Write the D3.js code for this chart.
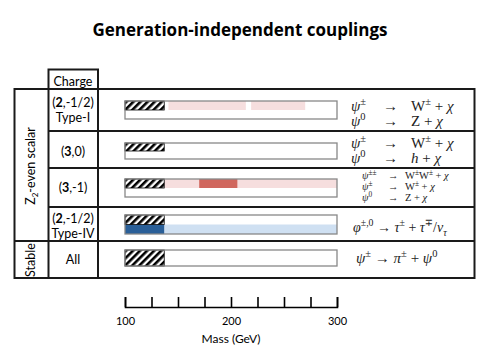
<!DOCTYPE html>
<html><head><meta charset="utf-8">
<script src="https://cdn.jsdelivr.net/npm/d3@7"></script>
<style>body{margin:0;background:#fff}</style>
</head><body><svg id="c" width="482" height="358"></svg>
<script>
// ---- data ----
const rowIds = ["typeI", "triplet0", "tripletM1", "typeIV", "stable"];
const chargeLine1 = [["(", "2", ",-1/2)"], ["(", "3", ",0)"], ["(", "3", ",-1)"], ["(", "2", ",-1/2)"], ["", "", "All"]];
const chargeLine2 = ["Type-I", "", "", "Type-IV", ""];
const hatchLimit = [137, 137, 137, 137, 137];
const lightRanges = [[[141, 214], [219, 270]], [], [[137, 300]], [[137, 300]], []];
const darkRanges = [[], [], [[170, 206]], [[100, 137]], []];
const rowColor = ["red", "red", "red", "blue", "none"];
const massDomain = [100, 300];
const tickValues = [100, 125, 150, 175, 200, 225, 250, 275, 300];
const tickLabels = [100, 200, 300];

const svg = d3.select("#c");
const x = d3.scaleLinear().domain(massDomain).range([125, 337]);
const barTop = [101, 143, 179, 215, 250];
const barH = [18, 16, 18, 19, 16];
const halfBand = [true, true, true, true, false];
const pal = {red: {light: "#f6dede", dark: "#d0675e"}, blue: {light: "#cfe0f2", dark: "#2a5f98"}};

// hatch pattern
const defs = svg.append("defs");
const pat = defs.append("pattern").attr("id", "hatch").attr("patternUnits", "userSpaceOnUse")
  .attr("width", 5).attr("height", 5).attr("patternTransform", "rotate(45)");
pat.append("rect").attr("width", 5).attr("height", 5).attr("fill", "#fff");
pat.append("rect").attr("width", 2.6).attr("height", 5).attr("fill", "#000");

// title
svg.append("text").attr("x", 240).attr("y", 36).attr("text-anchor", "middle")
  .attr("font-family", "Open Sans, Lato, sans-serif").attr("font-weight", "bold").attr("font-size", 17)
  .text("Generation-independent couplings");

// table lines
const lc = "#1a1a1a", lw = 2;
const tbl = svg.append("g").attr("stroke", lc).attr("stroke-width", lw).attr("fill", "none");
tbl.append("rect").attr("x", 14.5).attr("y", 89).attr("width", 460).attr("height", 189);
tbl.append("rect").attr("x", 48.5).attr("y", 69.5).attr("width", 49.5).attr("height", 208.5);
[131, 168, 207].forEach(y => tbl.append("line").attr("x1", 48).attr("x2", 474.5).attr("y1", y).attr("y2", y));
tbl.append("line").attr("x1", 14).attr("x2", 474.5).attr("y1", 241).attr("y2", 241);

const sans = "Lato, Open Sans, sans-serif";
svg.append("text").attr("x", 73).attr("y", 86).attr("text-anchor", "middle").attr("font-family", sans)
  .attr("font-size", 12.5).text("Charge");

// group labels (rotated)
const g1 = svg.append("text").attr("transform", "translate(35,166) rotate(-90)").attr("text-anchor", "middle")
  .attr("font-family", sans).attr("font-size", 12.5);
g1.append("tspan").text("Z");
g1.append("tspan").attr("font-size", 8).attr("dy", 3).text("2");
g1.append("tspan").attr("dy", -3).text("-even scalar");
svg.append("text").attr("transform", "translate(35,260) rotate(-90)").attr("text-anchor", "middle")
  .attr("font-family", sans).attr("font-size", 12.5).text("Stable");

// charge labels
const chY1 = [107, 156, 192, 223, 264];
rowIds.forEach((id, i) => {
  const t = svg.append("text").attr("x", 73).attr("y", chY1[i])
    .attr("text-anchor", "middle").attr("font-family", sans).attr("font-size", 12.5);
  t.append("tspan").text(chargeLine1[i][0]);
  t.append("tspan").attr("font-weight", "bold").text(chargeLine1[i][1]);
  t.append("tspan").text(chargeLine1[i][2]);
  if (chargeLine2[i]) svg.append("text").attr("x", 73).attr("y", chY1[i] + 15).attr("text-anchor", "middle")
    .attr("font-family", sans).attr("font-size", 12.5).text(chargeLine2[i]);
});

// bars
rowIds.forEach((id, i) => {
  const g = svg.append("g");
  const y0 = barTop[i], h = barH[i], hb = halfBand[i] ? h / 2 : h;
  const c = pal[rowColor[i]];
  g.append("rect").attr("x", x(massDomain[0])).attr("y", y0).attr("width", x(massDomain[1]) - x(massDomain[0]))
    .attr("height", h).attr("fill", "#fff");
  lightRanges[i].forEach(r => g.append("rect").attr("x", x(r[0])).attr("width", x(r[1]) - x(r[0]))
    .attr("y", rowColor[i] === "blue" ? y0 + hb : y0).attr("height", hb).attr("fill", c.light));
  darkRanges[i].forEach(r => g.append("rect").attr("x", x(r[0])).attr("width", x(r[1]) - x(r[0]))
    .attr("y", rowColor[i] === "blue" ? y0 + hb : y0).attr("height", hb).attr("fill", c.dark));
  g.append("rect").attr("x", x(massDomain[0])).attr("y", y0).attr("width", x(hatchLimit[i]) - x(massDomain[0]))
    .attr("height", hb).attr("fill", "url(#hatch)").attr("stroke", "#000").attr("stroke-width", 0.8);
  g.append("rect").attr("x", x(massDomain[0])).attr("y", y0).attr("width", x(massDomain[1]) - x(massDomain[0]))
    .attr("height", h).attr("fill", "none").attr("stroke", "#888").attr("stroke-width", 1.3);
});

// decay formulas
const serif = "Liberation Serif, DejaVu Serif, serif";
function mtext(xp, yp, size, parts, anchor) {
  const t = svg.append("text").attr("x", xp).attr("y", yp).attr("font-family", serif).attr("font-size", size)
    .attr("text-anchor", anchor || "start").attr("fill", "#222");
  let shift = 0;
  parts.forEach(p => {
    const s = t.append("tspan").text(p.t);
    const want = p.sup ? -size * 0.4 : p.sub ? size * 0.25 : 0;
    if (want !== shift) { s.attr("dy", want - shift); shift = want; }
    if (p.sup || p.sub) s.attr("font-size", size * 0.7);
    if (p.i) s.attr("font-style", "italic");
  });
  return t;
}
const psi = {t: "ψ", i: true}, chi = {t: "χ", i: true};
function decay2(y, size, lhs, rhs, xs) {
  mtext(xs[0], y, size, lhs);
  mtext(xs[1], y, size, [{t: "→"}]);
  mtext(xs[2], y, size, rhs);
}
const c1 = [351, 383, 411];
decay2(111, 15, [psi, {t: "±", sup: true}], [{t: "W"}, {t: "±", sup: true}, {t: " + "}, chi], c1);
decay2(126, 15, [psi, {t: "0", sup: true}], [{t: "Z + "}, chi], c1);
decay2(148, 15, [psi, {t: "±", sup: true}], [{t: "W"}, {t: "±", sup: true}, {t: " + "}, chi], c1);
decay2(163, 15, [psi, {t: "0", sup: true}], [{t: "h", i: true}, {t: " + "}, chi], c1);
const c3 = [362, 388, 405];
decay2(179, 10.5, [psi, {t: "±±", sup: true}], [{t: "W"}, {t: "±", sup: true}, {t: "W"}, {t: "±", sup: true}, {t: " + "}, chi], c3);
decay2(190, 10.5, [psi, {t: "±", sup: true}], [{t: "W"}, {t: "±", sup: true}, {t: " + "}, chi], c3);
decay2(201, 10.5, [psi, {t: "0", sup: true}], [{t: "Z + "}, chi], c3);
mtext(353, 232, 14, [{t: "φ", i: true}, {t: "±,0", sup: true}, {t: " → "}, {t: "τ", i: true}, {t: "±", sup: true},
  {t: " + "}, {t: "τ", i: true}, {t: "∓", sup: true}, {t: "/"}, {t: "ν", i: true}, {t: "τ", i: true, sub: true}]);
mtext(356, 263, 15, [psi, {t: "±", sup: true}, {t: " → "}, {t: "π", i: true}, {t: "±", sup: true}, {t: " + "},
  psi, {t: "0", sup: true}]);

// axis
const ax = svg.append("g").attr("transform", "translate(0,307)")
  .call(d3.axisTop(x).tickValues(tickValues).tickSize(10).tickSizeOuter(10).tickFormat(""));
ax.selectAll("path,line").attr("stroke", "#000").attr("stroke-width", 1.6);
const ax2 = svg.append("g").attr("transform", "translate(0,307)")
  .call(d3.axisBottom(x).tickValues(tickLabels).tickSize(0).tickPadding(10));
ax2.select(".domain").remove();
ax2.selectAll("text").attr("font-family", sans).attr("font-size", 11).attr("fill", "#000");
svg.append("text").attr("x", 231).attr("y", 343).attr("text-anchor", "middle").attr("font-family", sans)
  .attr("font-size", 12).text("Mass (GeV)");
</script></body></html>
